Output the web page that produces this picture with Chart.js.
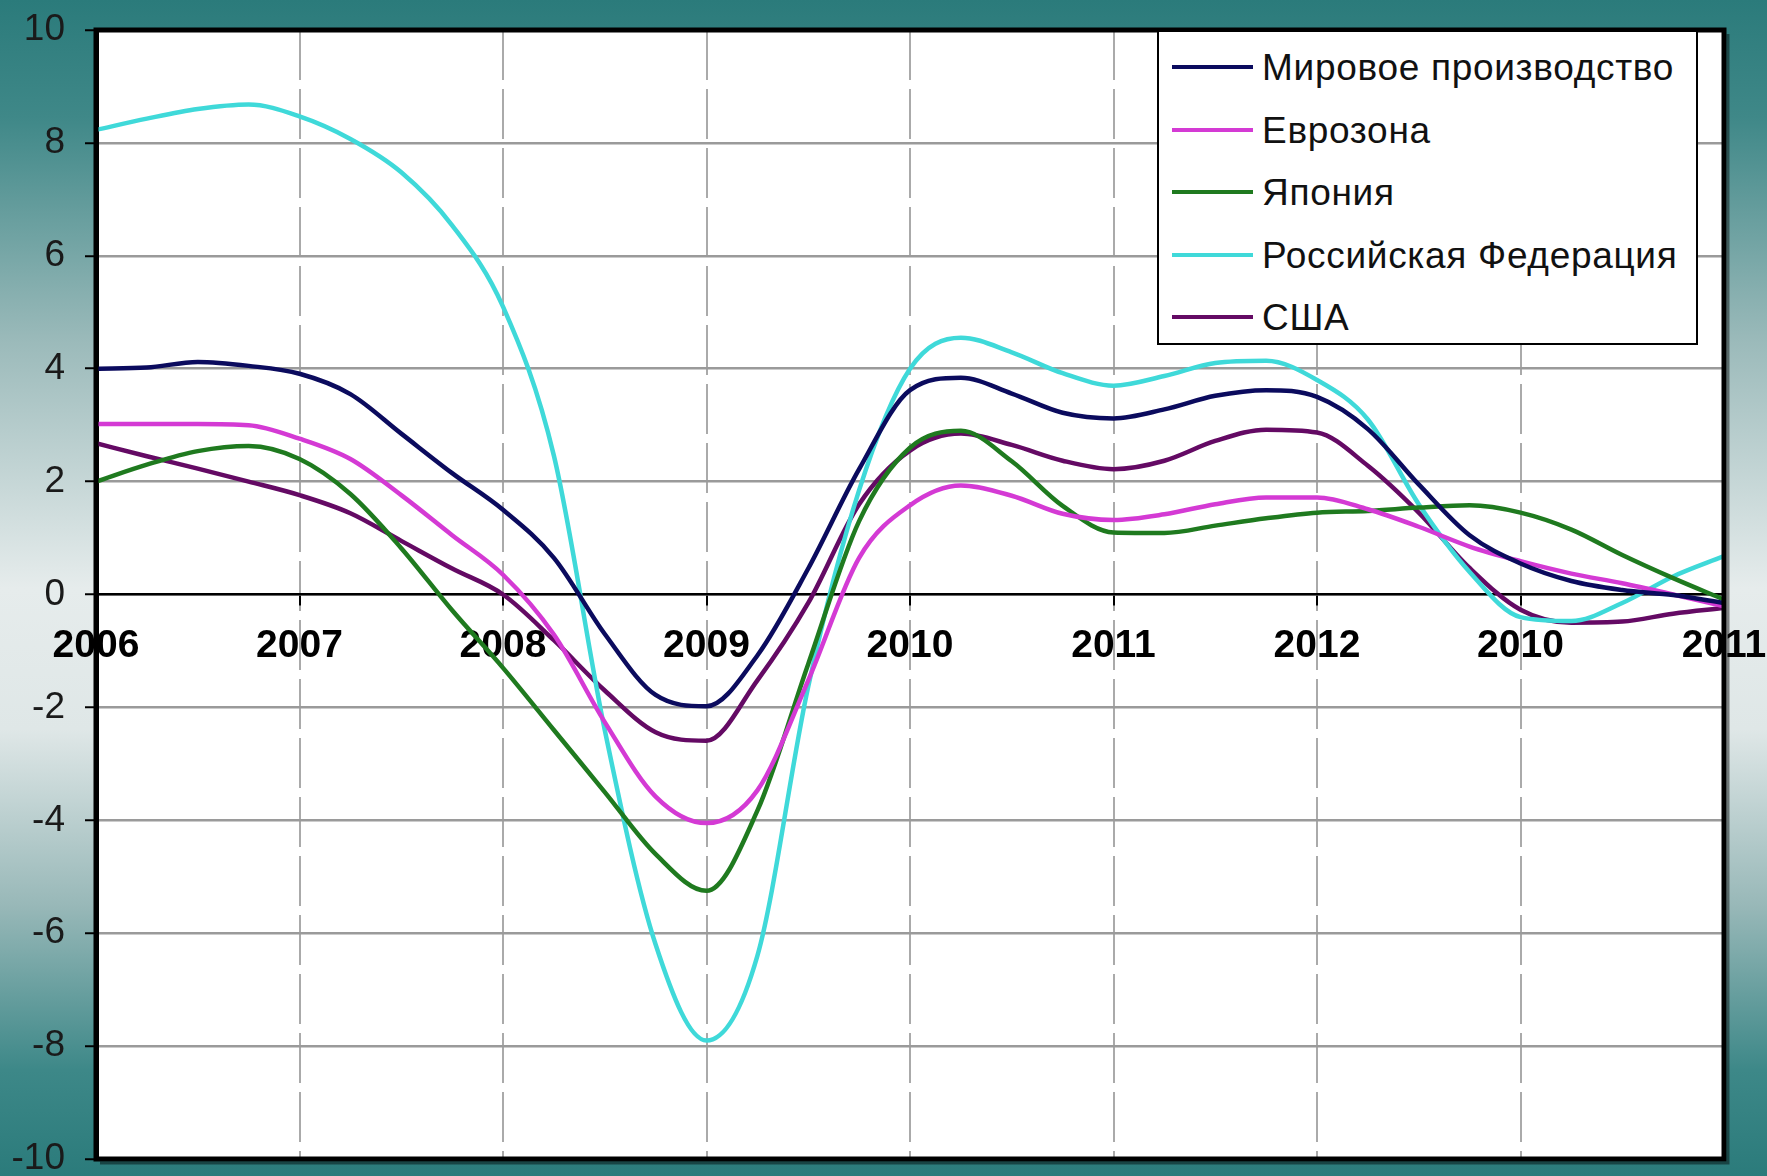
<!DOCTYPE html>
<html>
<head>
<meta charset="utf-8">
<script src="https://cdn.jsdelivr.net/npm/chart.js@4.4.1/dist/chart.umd.min.js"></script>
<style>
html,body{margin:0;padding:0;width:1767px;height:1176px;overflow:hidden;}
body{background:linear-gradient(180deg,#2b7b7b 0%,#3f8888 10%,#9bbaba 29%,#e6ecec 50%,#dfe7e7 62%,#98b8b8 77%,#3d8888 91%,#2b7b7b 100%);}
#wrap{position:relative;width:1767px;height:1176px;}
#chart{position:absolute;left:0;top:0;}
#legend{position:absolute;background:#fff;border:2px solid #000;box-sizing:border-box;font-family:"Liberation Sans",Arial,sans-serif;}
#legend .sw{position:absolute;height:4px;}
#legend .lab{position:absolute;font-size:37px;line-height:1;color:#111;white-space:nowrap;letter-spacing:0.7px;}
</style>
</head>
<body>
<div id="wrap">
<canvas id="chart" width="1767" height="1176"></canvas>
<div id="legend"></div>
</div>
<script>
// ---- data ----
const xTickLabels = ['2006','2007','2008','2009','2010','2011','2012','2010','2011'];
const periods = [0,0.25,0.5,0.75,1,1.25,1.5,1.75,2,2.25,2.5,2.75,3,3.25,3.5,3.75,4,4.25,4.5,4.75,5,5.25,5.5,5.75,6,6.25,6.5,6.75,7,7.25,7.5,7.75,8];
const seriesNames = ['Мировое производство','Еврозона','Япония','Российская Федерация','США'];
const world  = [4.0,4.02,4.12,4.05,3.91,3.55,2.85,2.15,1.5,0.65,-0.7,-1.78,-1.98,-1.08,0.46,2.22,3.62,3.84,3.56,3.22,3.12,3.28,3.52,3.62,3.5,2.93,1.95,1.05,0.55,0.24,0.08,-0.01,-0.15];
const euro   = [3.02,3.02,3.02,3.0,2.76,2.4,1.76,1.05,0.35,-0.71,-2.26,-3.58,-4.05,-3.47,-1.52,0.65,1.58,1.93,1.75,1.43,1.32,1.42,1.6,1.72,1.72,1.51,1.2,0.85,0.59,0.37,0.2,0.0,-0.21];
const japan  = [2.0,2.3,2.54,2.63,2.4,1.78,0.82,-0.28,-1.3,-2.4,-3.5,-4.6,-5.25,-3.83,-1.23,1.3,2.6,2.9,2.36,1.57,1.1,1.09,1.22,1.35,1.45,1.48,1.54,1.58,1.45,1.15,0.7,0.29,-0.09];
const russia = [8.23,8.43,8.6,8.68,8.47,8.07,7.48,6.54,5.1,2.46,-2.4,-6.2,-7.9,-6.4,-1.63,1.85,4.0,4.55,4.29,3.92,3.7,3.87,4.1,4.14,3.8,3.1,1.6,0.4,-0.4,-0.47,-0.15,0.32,0.68];
const usa    = [2.68,2.45,2.23,2.0,1.76,1.44,0.95,0.46,0.0,-0.81,-1.7,-2.44,-2.59,-1.52,-0.15,1.6,2.55,2.85,2.65,2.37,2.22,2.37,2.72,2.92,2.87,2.28,1.45,0.47,-0.27,-0.5,-0.48,-0.34,-0.24];
const seriesValues = [world, euro, japan, russia, usa];

// ---- styles ----
const seriesColors = ['#0b0b5e','#d43ad4','#1f7a1f','#3fd9d9','#640a64'];
const tickFont = '"Liberation Sans Narrow","Liberation Sans",Arial,sans-serif';

const datasets = seriesNames.map((name, s) => ({
  label: name,
  data: periods.map((p, k) => ({x: p, y: seriesValues[s][k]})),
  borderColor: seriesColors[s],
  backgroundColor: seriesColors[s],
  borderWidth: 4.5,
  pointRadius: 0,
  fill: false,
  cubicInterpolationMode: 'monotone'
}));

const framePlugin = {
  id: 'frame',
  beforeDraw(chart) {
    const {ctx, chartArea: a} = chart;
    ctx.save();
    ctx.fillStyle = '#ffffff';
    ctx.fillRect(a.left, a.top, a.width, a.height);
    ctx.restore();
  },
  afterDraw(chart) {
    const {ctx, chartArea: a} = chart;
    ctx.save();
    ctx.strokeStyle = 'rgba(0,0,0,0.45)';
    ctx.lineWidth = 3;
    ctx.beginPath();
    ctx.moveTo(a.right + 4, a.top + 4);
    ctx.lineTo(a.right + 4, a.bottom + 4);
    ctx.lineTo(a.left + 4, a.bottom + 4);
    ctx.stroke();
    ctx.strokeStyle = '#000';
    ctx.lineWidth = 5;
    ctx.strokeRect(a.left, a.top, a.width, a.height);
    ctx.restore();
  }
};

const chart = new Chart(document.getElementById('chart'), {
  type: 'line',
  data: {datasets},
  plugins: [framePlugin],
  options: {
    responsive: false,
    animation: false,
    devicePixelRatio: 1,
    layout: {padding: {left: 0, top: 30, right: 43, bottom: 17}},
    plugins: {legend: {display: false}, tooltip: {enabled: false}},
    scales: {
      x: {
        type: 'linear', min: 0, max: 8,
        position: {y: 0},
        ticks: {
          stepSize: 1, autoSkip: false, maxRotation: 0, padding: 22, color: '#000',
          font: {family: tickFont, size: 39, weight: 'bold', lineHeight: 1},
          callback: (v) => xTickLabels[Math.round(v)]
        },
        grid: {color: '#aaaaaa', lineWidth: 2, tickColor: '#000', tickWidth: 2, tickLength: 10, borderDash: [50, 9]},
        border: {display: true, color: '#000', width: 2.5, dash: [50, 9]},
        afterFit: (s) => { s.paddingLeft = 0; s.paddingRight = 0; }
      },
      y: {
        type: 'linear', min: -10, max: 10, position: 'left',
        ticks: {stepSize: 2, padding: 20, color: '#1a1a1a', font: {family: tickFont, size: 37, lineHeight: 1}},
        grid: {color: '#9a9a9a', lineWidth: 2.5, tickColor: '#000', tickWidth: 2, tickLength: 11},
        border: {display: true, color: '#000', width: 5},
        afterFit: (s) => { s.width = 96; s.paddingTop = 0; s.paddingBottom = 0; }
      }
    }
  }
});

// ---- legend (HTML, built from datasets) ----
(function buildLegend() {
  const a = chart.chartArea;
  const box = document.getElementById('legend');
  box.style.left = (a.right - 567) + 'px';
  box.style.top = a.top + 'px';
  box.style.width = '541px';
  box.style.height = '315px';
  chart.data.datasets.forEach((ds, k) => {
    const cy = 35 + k * 62.5;
    const sw = document.createElement('div');
    sw.className = 'sw';
    sw.style.left = '13px';
    sw.style.width = '81px';
    sw.style.top = (cy - 2) + 'px';
    sw.style.background = ds.borderColor;
    box.appendChild(sw);
    const lab = document.createElement('div');
    lab.className = 'lab';
    lab.style.left = '103px';
    lab.style.top = (cy - 18) + 'px';
    lab.textContent = ds.label;
    box.appendChild(lab);
  });
})();
</script>
</body>
</html>
